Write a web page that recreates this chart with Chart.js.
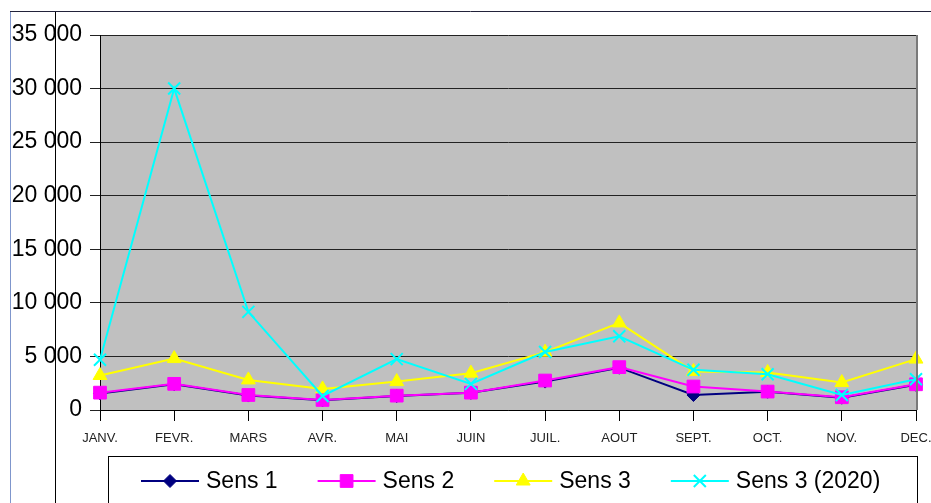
<!DOCTYPE html>
<html>
<head>
<meta charset="utf-8">
<script src="https://cdn.jsdelivr.net/npm/chart.js@4.4.1/dist/chart.umd.min.js"></script>
<style>
  html, body { margin: 0; padding: 0; background: #fff; }
  #wrap { width: 931px; height: 503px; position: relative; }
</style>
</head>
<body>
<div id="wrap"><canvas id="myChart" width="931" height="503"></canvas></div>
<script>
// mois
var mois = ['JANV.', 'FEVR.', 'MARS', 'AVR.', 'MAI', 'JUIN', 'JUIL.', 'AOUT', 'SEPT.', 'OCT.', 'NOV.', 'DEC.'];

// valeurs
var sens1     = [1550, 2400, 1350, 900, 1300, 1600, 2650, 3950, 1400, 1700, 1150, 2350];
var sens2     = [1620, 2440, 1400, 940, 1340, 1620, 2750, 4000, 2190, 1720, 1190, 2400];
var sens3     = [3220, 4800, 2810, 1970, 2650, 3440, 5400, 8130, 3600, 3500, 2560, 4750];
var sens3_2020 = [4690, 30000, 9160, 1310, 4750, 2440, 5410, 6880, 3750, 3340, 1400, 2870];

var yTicks = [0, 5000, 10000, 15000, 20000, 25000, 30000, 35000];

var FONT = '"Liberation Sans", Arial, sans-serif';

function fmt(v) {
    return String(v).replace(/\B(?=(\d{3})+(?!\d))/g, ' ');
}

// fond gris + cadre + traits autour
var decor = {
    id: 'decor',
    beforeDraw: function (chart) {
        var c = chart.ctx, a = chart.chartArea;
        c.save();
        c.fillStyle = '#c0c0c0';
        c.fillRect(a.left, a.top, a.right - a.left, a.bottom - a.top);
        c.strokeStyle = '#7f96cc';
        c.lineWidth = 1;
        c.beginPath(); c.moveTo(10.5, 11); c.lineTo(10.5, 503); c.stroke();
        c.strokeStyle = '#000';
        c.beginPath(); c.moveTo(55.5, 11); c.lineTo(55.5, 503); c.stroke();
        c.strokeStyle = '#22223a';
        c.beginPath(); c.moveTo(10, 11.5); c.lineTo(931, 11.5); c.stroke();
        c.restore();
    },
    afterDatasetsDraw: function (chart) {
        var c = chart.ctx, a = chart.chartArea;
        c.save();
        c.strokeStyle = '#7a7a7a';
        c.lineWidth = 2;
        c.beginPath(); c.moveTo(a.right + 1, a.top); c.lineTo(a.right + 1, a.bottom); c.stroke();
        c.restore();
    }
};

// legende dessinee a la main (trait + marqueur)
var legende = {
    id: 'legende',
    afterDraw: function (chart) {
        var c = chart.ctx;
        c.save();
        c.strokeStyle = '#000';
        c.lineWidth = 1;
        c.strokeRect(108.5, 456.5, 809, 60);
        c.font = '23px ' + FONT;
        c.textBaseline = 'middle';
        var x = 141, y = 481;
        chart.data.datasets.forEach(function (ds) {
            c.strokeStyle = ds.borderColor;
            c.lineWidth = 2;
            c.beginPath(); c.moveTo(x, y); c.lineTo(x + 58, y); c.stroke();
            c.fillStyle = ds.backgroundColor;
            c.lineWidth = ds.pointBorderWidth;
            Chart.helpers.drawPoint(c, {
                pointStyle: ds.pointStyle,
                radius: ds.pointRadius,
                borderWidth: ds.pointBorderWidth
            }, x + 29, y);
            c.fillStyle = '#000';
            c.fillText(ds.label, x + 65, y + 1);
            x += 65 + c.measureText(ds.label).width + 40;
        });
        c.restore();
    }
};

function serie(label, data, color, style, r, order) {
    return {
        label: label,
        data: data,
        borderColor: color,
        backgroundColor: color,
        pointBackgroundColor: color,
        pointBorderColor: color,
        borderWidth: 2,
        pointStyle: style,
        pointRadius: r,
        pointHoverRadius: r,
        pointBorderWidth: style === 'crossRot' ? 2 : 1,
        tension: 0,
        order: order
    };
}

const ctx = document.getElementById('myChart');
const myChart = new Chart(ctx, {
    type: 'line',
    data: {
        labels: mois,
        datasets: [
            serie('Sens 1', sens1, '#000080', 'rectRot', 6.5, 4),
            serie('Sens 2', sens2, '#ff00ff', 'rect', 9, 3),
            serie('Sens 3', sens3, '#ffff00', 'triangle', 8, 2),
            serie('Sens 3 (2020)', sens3_2020, '#00ffff', 'crossRot', 8.5, 1)
        ]
    },
    options: {
        responsive: false,
        animation: false,
        layout: { padding: { top: 35, right: 15, bottom: 0, left: 0 } },
        plugins: {
            legend: { display: false },
            tooltip: { enabled: false }
        },
        scales: {
            x: {
                offset: false,
                grid: { drawOnChartArea: false, color: '#000', tickLength: 11 },
                border: { color: '#000', width: 1 },
                ticks: {
                    color: '#222',
                    font: { family: FONT, size: 13 },
                    padding: 10,
                    maxRotation: 0,
                    autoSkip: false
                },
                afterFit: function (s) {
                    s.height = 93;
                    s.paddingRight = 0;
                    s.paddingLeft = 0;
                }
            },
            y: {
                min: 0,
                max: 35000,
                afterBuildTicks: function (s) {
                    s.ticks = yTicks.map(function (v) { return { value: v }; });
                },
                grid: { color: '#222', tickLength: 10 },
                border: { color: '#000', width: 1 },
                ticks: {
                    color: '#000',
                    font: { family: FONT, size: 23 },
                    padding: 8,
                    callback: function (v) { return fmt(v); }
                },
                afterFit: function (s) { s.width = 100; }
            }
        }
    },
    plugins: [decor, legende]
});
</script>
</body>
</html>
